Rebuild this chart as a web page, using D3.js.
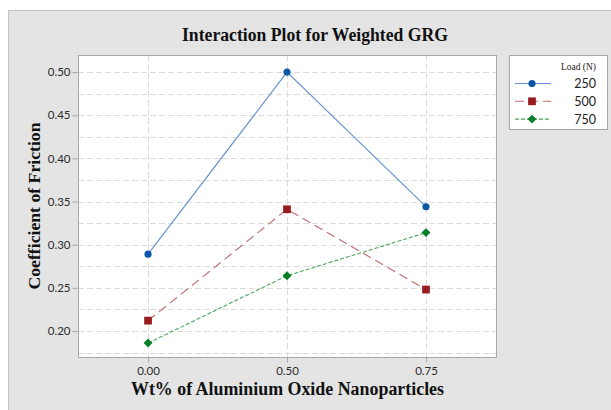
<!DOCTYPE html>
<html>
<head>
<meta charset="utf-8">
<script src="https://cdn.jsdelivr.net/npm/d3@7"></script>
<style>
  body { margin: 0; background: #fff; }
</style>
</head>
<body>
<div id="chart"></div>
<script>
// data
var categories = ["0.00", "0.50", "0.75"];
var loads = ["250", "500", "750"];
var load250 = [0.289, 0.500, 0.344];
var load500 = [0.212, 0.341, 0.248];
var load750 = [0.186, 0.264, 0.314];
var yTicks = [0.20, 0.25, 0.30, 0.35, 0.40, 0.45, 0.50];

const WIDTH = 611;
const HEIGHT = 410;
const PLOT = {left: 78, top: 55, right: 497, bottom: 358};

// diamond = square turned 45 degrees
var symbolDiamondSq = {
    draw: function (ctx, size) {
        var r = Math.sqrt(size / 2);
        ctx.moveTo(0, -r); ctx.lineTo(r, 0); ctx.lineTo(0, r); ctx.lineTo(-r, 0); ctx.closePath();
    }
};

var series = [
    {name: loads[0], values: load250, marker: "#0a57a8", line: "#5f8fd0", dash: null, shape: d3.symbolCircle, size: 40},
    {name: loads[1], values: load500, marker: "#981b1e", line: "#c26a6a", dash: "9,5", shape: d3.symbolSquare, size: 60},
    {name: loads[2], values: load750, marker: "#0a7f2a", line: "#4aa858", dash: "4,2", shape: symbolDiamondSq, size: 40}
];

var svg = d3.select("#chart")
    .append("svg")
    .attr("width", WIDTH)
    .attr("height", HEIGHT);

// grey background panel
svg.append("rect")
    .attr("x", 8.5).attr("y", 10.5)
    .attr("width", WIDTH).attr("height", HEIGHT)
    .attr("fill", "#e4e4e4")
    .attr("stroke", "#c4c4c4");

var xScale = d3.scaleLinear()
    .domain([-0.504, 2.511])
    .range([PLOT.left, PLOT.right]);
var yScale = d3.scaleLinear()
    .domain([0.1687, 0.5198])
    .range([PLOT.bottom, PLOT.top]);

svg.append("rect")
    .attr("x", PLOT.left).attr("y", PLOT.top)
    .attr("width", PLOT.right - PLOT.left)
    .attr("height", PLOT.bottom - PLOT.top)
    .attr("fill", "#fff");

// gridlines, every 0.025 horizontally
var grid = svg.append("g");
grid.selectAll("line.h")
    .data(d3.range(0.175, 0.52, 0.025))
    .enter().append("line")
    .attr("x1", PLOT.left).attr("x2", PLOT.right)
    .attr("y1", d => Math.round(yScale(d)) + 0.5)
    .attr("y2", d => Math.round(yScale(d)) + 0.5)
    .attr("stroke", "#dcdcdc")
    .attr("stroke-dasharray", "6,3");
grid.selectAll("line.v")
    .data(categories)
    .enter().append("line")
    .attr("x1", (d, i) => Math.round(xScale(i)) + 0.5)
    .attr("x2", (d, i) => Math.round(xScale(i)) + 0.5)
    .attr("y1", PLOT.top).attr("y2", PLOT.bottom)
    .attr("stroke", "#dcdcdc")
    .attr("stroke-dasharray", "6,3");

svg.append("rect")
    .attr("x", PLOT.left + 0.5).attr("y", PLOT.top + 0.5)
    .attr("width", PLOT.right - PLOT.left - 1)
    .attr("height", PLOT.bottom - PLOT.top - 1)
    .attr("fill", "none")
    .attr("stroke", "#a6a6a6");

// axes
var yAxis = svg.append("g")
    .attr("transform", "translate(" + (PLOT.left - 0.5) + ",0)")
    .call(d3.axisLeft(yScale).tickValues(yTicks).tickFormat(d3.format(".2f")).tickSize(5).tickPadding(2));
var xAxis = svg.append("g")
    .attr("transform", "translate(0," + (PLOT.bottom - 0.5) + ")")
    .call(d3.axisBottom(xScale).tickValues([0, 1, 2]).tickFormat(i => categories[i]).tickSize(5).tickPadding(4));

[yAxis, xAxis].forEach(function (ax) {
    ax.select(".domain").remove();
    ax.selectAll(".tick line").attr("stroke", "#a6a6a6");
    ax.selectAll(".tick text")
        .attr("fill", "#2b2b2b")
        .style("font-family", "Lato, 'Open Sans', sans-serif")
        .style("font-size", "11.5px");
});

// lines and markers
var line = d3.line()
    .x((d, i) => xScale(i))
    .y(d => yScale(d));

series.forEach(function (s) {
    svg.append("path")
        .datum(s.values)
        .attr("d", line)
        .attr("fill", "none")
        .attr("stroke", s.line)
        .attr("stroke-width", 1.1)
        .attr("stroke-dasharray", s.dash);
    svg.append("g")
        .selectAll("path")
        .data(s.values)
        .enter().append("path")
        .attr("d", d3.symbol().type(s.shape).size(s.size))
        .attr("transform", (d, i) => "translate(" + xScale(i) + "," + yScale(d) + ")")
        .attr("fill", s.marker);
});

// Title
svg.append("text")
    .attr("x", 315).attr("y", 41)
    .attr("text-anchor", "middle")
    .attr("textLength", 266)
    .attr("lengthAdjust", "spacingAndGlyphs")
    .style("font-family", "'Liberation Serif', 'DejaVu Serif', serif")
    .style("font-weight", "bold")
    .style("font-size", "18.5px")
    .attr("fill", "#111")
    .text("Interaction Plot for Weighted GRG");

svg.append("text")
    .attr("transform", "translate(40,206) rotate(-90)")
    .attr("text-anchor", "middle")
    .attr("textLength", 167)
    .attr("lengthAdjust", "spacingAndGlyphs")
    .style("font-family", "'Liberation Serif', 'DejaVu Serif', serif")
    .style("font-weight", "bold")
    .style("font-size", "17px")
    .attr("fill", "#111")
    .text("Coefficient of Friction");

svg.append("text")
    .attr("x", 287.5).attr("y", 395)
    .attr("text-anchor", "middle")
    .attr("textLength", 313)
    .attr("lengthAdjust", "spacingAndGlyphs")
    .style("font-family", "'Liberation Serif', 'DejaVu Serif', serif")
    .style("font-weight", "bold")
    .style("font-size", "18px")
    .attr("fill", "#111")
    .text("Wt% of Aluminium Oxide Nanoparticles");

// legend
var legend = svg.append("g");
legend.append("rect")
    .attr("x", 509.5).attr("y", 55.5)
    .attr("width", 98).attr("height", 74)
    .attr("fill", "#fff")
    .attr("stroke", "#a6a6a6");
legend.append("text")
    .attr("x", 596).attr("y", 70)
    .attr("text-anchor", "end")
    .style("font-family", "'Liberation Serif', serif")
    .style("font-size", "9.5px")
    .attr("fill", "#222")
    .text("Load (N)");

var entries = legend.selectAll("g.entry")
    .data(series)
    .enter().append("g")
    .attr("transform", (d, i) => "translate(0," + (83.5 + i * 17.8) + ")");
entries.append("line")
    .attr("x1", 515).attr("x2", 551)
    .attr("stroke", d => d.line)
    .attr("stroke-width", 1.1)
    .attr("stroke-dasharray", d => d.dash);
entries.append("path")
    .attr("d", d => d3.symbol().type(d.shape).size(d.size)())
    .attr("transform", "translate(532,0)")
    .attr("fill", d => d.marker);
entries.append("text")
    .attr("x", 596).attr("y", 4.5)
    .attr("text-anchor", "end")
    .style("font-family", "Lato, 'Open Sans', sans-serif")
    .style("font-size", "12.5px")
    .attr("fill", "#222")
    .text(d => d.name);
</script>
</body>
</html>
